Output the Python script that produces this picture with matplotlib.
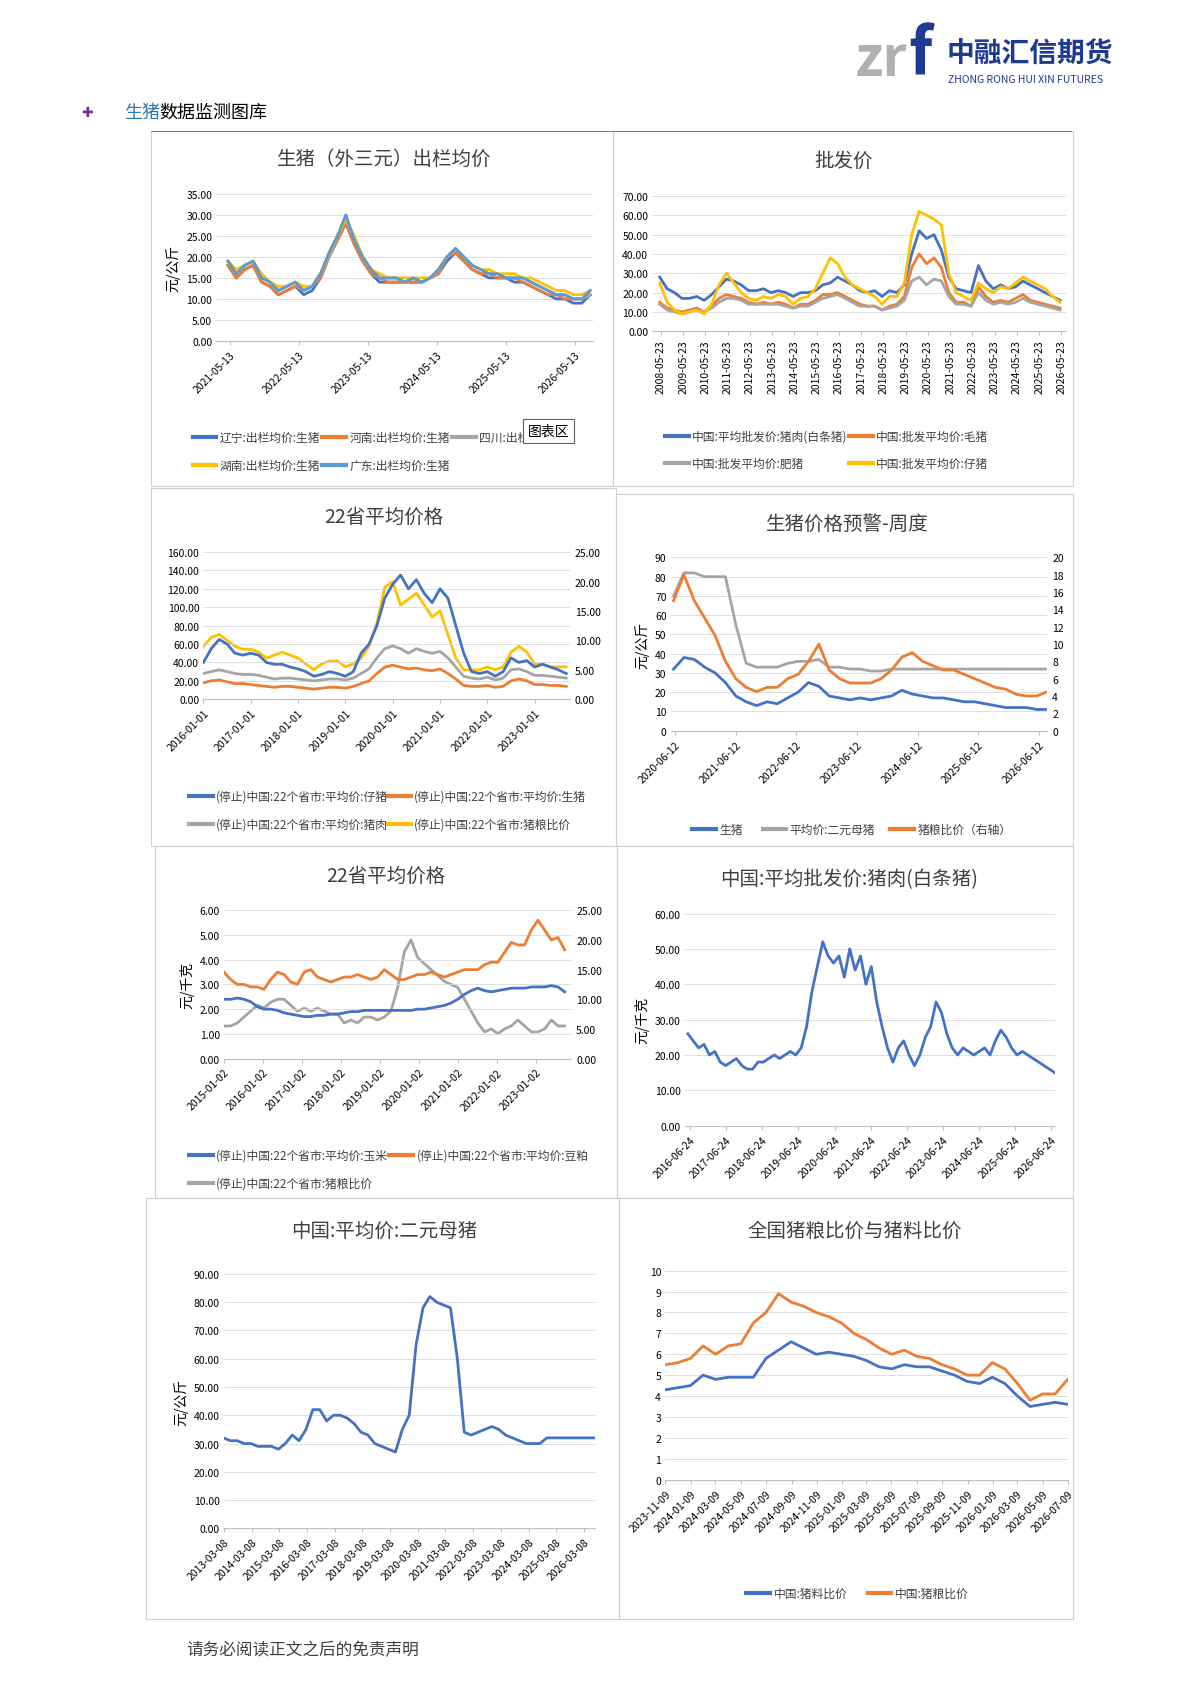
import matplotlib
matplotlib.use("Agg")
import matplotlib.pyplot as plt
import numpy as np
import pandas as pd
from matplotlib.lines import Line2D
from matplotlib.patches import Rectangle

plt.rcParams['font.family'] = ['Noto Sans CJK SC', 'DejaVu Sans']

BLUE, ORANGE, GRAY, YELLOW, LBLUE = "#4472C4", "#ED7D31", "#A5A5A5", "#FFC000", "#5B9BD5"

# ---------------- data ----------------
c1_gd = [19,16,18,19,15,14,12,13,14,12,13,16,21,25,30,24,20,17,15,15,15,14,15,14,15,17,20,22,20,18,17,16,16,15,15,15,14,13,12,11,11,10,10,12]
c1_ln = [18,15,17,18,14,13,11,12,13,11,12,15,20,24,28,23,19,16,14,14,14,14,14,14,15,16,19,21,19,17,16,15,15,15,14,14,13,12,11,10,10,9,9,11]
c1_hn = [18,15,17,18,14,13,11,12,13,12,13,15,20,24,28,23,19,16,15,14,14,14,14,14,15,16,20,21,19,17,16,16,15,15,15,14,13,12,11,11,10,10,10,11]
c1_sc = [19,16,18,19,15,14,12,13,14,12,13,16,20,25,29,24,20,17,15,15,15,14,15,14,15,17,20,22,20,18,17,16,16,15,15,15,14,13,12,11,11,10,10,11]
c1_hu = [19,17,18,19,16,14,13,13,14,13,13,16,21,25,29,25,20,17,16,15,15,15,15,15,15,17,20,22,20,18,17,17,16,16,16,15,15,14,13,12,12,11,11,12]
c1_ticks = ["2021-05-13","2022-05-13","2023-05-13","2024-05-13","2025-05-13","2026-05-13"]

c2_pork = [28,22,20,17,17,18,16,19,23,27,26,24,21,21,22,20,21,20,18,20,20,21,24,25,28,26,24,21,20,21,18,21,20,24,40,52,48,50,42,28,22,21,20,34,26,22,24,22,23,26,24,22,20,18,16]
c2_hog = [15,12,11,10,11,12,10,13,17,19,18,17,15,14,15,14,15,14,12,14,14,16,19,19,20,18,16,14,13,13,11,13,14,18,33,40,35,38,33,20,15,15,13,23,18,15,16,15,17,19,16,15,14,13,12]
c2_fat = [14,11,10,9,10,11,10,12,15,17,17,16,14,14,14,14,14,13,12,13,13,15,17,18,19,17,15,13,13,13,11,12,13,16,26,28,24,27,26,18,14,14,13,20,16,14,15,14,15,17,15,14,13,12,11]
c2_pig = [25,15,11,9,10,11,9,14,24,30,25,20,17,16,18,17,19,18,14,17,18,22,30,38,35,28,24,22,20,18,14,18,18,25,50,62,60,58,55,30,20,18,16,25,22,20,23,22,25,28,26,24,22,18,15]
c2_ticks = [f"{y}-05-23" for y in range(2008, 2027)]

c3_piglet = [40,55,65,60,50,48,50,48,40,38,38,35,33,30,25,27,30,28,25,30,50,60,80,110,125,135,120,130,115,105,120,110,80,50,30,28,30,25,30,45,40,42,35,38,35,32,28]
c3_hog = [18,20,21,19,17,17,16,15,14,13,14,14,13,12,11,12,13,13,12,14,17,20,28,35,37,35,33,34,32,31,33,28,22,15,14,14,15,13,14,20,22,20,16,16,15,15,14]
c3_pork = [28,30,32,30,28,27,27,26,24,22,23,23,22,21,20,21,22,22,21,23,28,33,45,55,58,55,50,55,52,50,52,45,35,25,23,22,24,21,23,32,33,30,26,26,25,24,23]
c3_ratio = [9,10.5,11,10,9,8.5,8.5,8,7,7.5,8,7.5,7,6,5,6,6.5,6.5,5.5,6,7,9,13,19,20,16,17,18,16,14,15,11,7,5,5,5,5.5,5,5.5,8,9,8,6,6,5.5,5.5,5.5]
c3_ticks = [f"{y}-01-01" for y in range(2016, 2024)]

c4_hog = [32,38,37,33,30,25,18,15,13,15,14,17,20,25,23,18,17,16,17,16,17,18,21,19,18,17,17,16,15,15,14,13,12,12,12,11,11]
c4_sow = [70,82,82,80,80,80,55,35,33,33,33,35,36,36,37,33,33,32,32,31,31,32,32,32,32,32,32,32,32,32,32,32,32,32,32,32,32]
c4_ratio = [15,18,15,13,11,8,6,5,4.5,5,5,6,6.5,8,10,7,6,5.5,5.5,5.5,6,7,8.5,9,8,7.5,7,7,6.5,6,5.5,5,4.8,4.2,4,4,4.5]
c4_ticks = [f"{y}-06-12" for y in range(2020, 2027)]

c5_corn = [2.4,2.4,2.45,2.4,2.3,2.1,2.0,2.0,1.95,1.85,1.8,1.75,1.7,1.7,1.75,1.75,1.8,1.8,1.85,1.9,1.9,1.95,1.95,1.95,1.95,1.95,1.95,1.95,1.95,2.0,2.0,2.05,2.1,2.15,2.25,2.4,2.6,2.75,2.85,2.75,2.7,2.75,2.8,2.85,2.85,2.85,2.9,2.9,2.9,2.95,2.9,2.7]
c5_soy = [3.5,3.2,3.0,3.0,2.9,2.9,2.8,3.2,3.5,3.4,3.1,3.0,3.5,3.6,3.3,3.2,3.1,3.2,3.3,3.3,3.4,3.3,3.2,3.3,3.6,3.4,3.2,3.2,3.3,3.4,3.4,3.5,3.4,3.3,3.4,3.5,3.6,3.6,3.6,3.8,3.9,3.9,4.3,4.7,4.6,4.6,5.2,5.6,5.2,4.8,4.9,4.4]
c5_ratio = [5.5,5.5,6,7,8,9,8.5,9.5,10,10,9,8,8.5,8,8.5,8,7.5,7.5,6,6.5,6,7,7,6.5,7,8,12,18,20,17,16,15,14,13,12.5,12,10,8,6,4.5,5,4.2,5,5.5,6.5,5.5,4.5,4.5,5,6.5,5.5,5.5]
c5_ticks = [f"{y}-01-02" for y in range(2015, 2024)]

c6_pork = [26,24,22,23,20,21,18,17,18,19,17,16,16,18,18,19,20,19,20,21,20,22,28,38,45,52,48,46,48,42,50,44,48,40,45,35,28,22,18,22,24,20,17,20,25,28,35,32,26,22,20,22,21,20,21,22,20,24,27,25,22,20,21,20,19,18,17,16,15]
c6_ticks = [f"{y}-06-24" for y in range(2016, 2027)]

c7_sow = [32,31,31,30,30,29,29,29,28,30,33,31,35,42,42,38,40,40,39,37,34,33,30,29,28,27,35,40,65,78,82,80,79,78,60,34,33,34,35,36,35,33,32,31,30,30,30,32,32,32,32,32,32,32,32]
c7_ticks = [f"{y}-03-08" for y in range(2013, 2027)]

c8_feed = [4.3,4.4,4.5,5.0,4.8,4.9,4.9,4.9,5.8,6.2,6.6,6.3,6.0,6.1,6.0,5.9,5.7,5.4,5.3,5.5,5.4,5.4,5.2,5.0,4.7,4.6,4.9,4.6,4.0,3.5,3.6,3.7,3.6]
c8_grain = [5.5,5.6,5.8,6.4,6.0,6.4,6.5,7.5,8.0,8.9,8.5,8.3,8.0,7.8,7.5,7.0,6.7,6.3,6.0,6.2,5.9,5.8,5.5,5.3,5.0,5.0,5.6,5.3,4.6,3.8,4.1,4.1,4.8]
c8_ticks = ["2023-11-09","2024-01-09","2024-03-09","2024-05-09","2024-07-09","2024-09-09","2024-11-09",
            "2025-01-09","2025-03-09","2025-05-09","2025-07-09","2025-09-09","2025-11-09","2026-01-09",
            "2026-03-09","2026-05-09","2026-07-09"]

# ---------------- helpers ----------------
W, H = 1100.0, 1555.0
fig = plt.figure(figsize=(11.9, 16.83), dpi=100)


def px_axes(x0, y0, x1, y1):
    return fig.add_axes([x0 / W, 1 - y1 / H, (x1 - x0) / W, (y1 - y0) / H])


def fx(x):
    return x / W


def fy(y):
    return 1 - y / H


def t(s):
    return pd.Timestamp(s).year + (pd.Timestamp(s).dayofyear - 1) / 365.25


def span(start, end, vals):
    return np.linspace(t(start), t(end), len(vals))


def style(ax, ymax, ystep, ticks, rot=45, fmt="{:.2f}", ylabel=None, xmin=None, xmax=None):
    ax.set_ylim(0, ymax)
    ax.set_yticks(np.arange(0, ymax + 1e-9, ystep))
    ax.set_yticklabels([fmt.format(v) for v in np.arange(0, ymax + 1e-9, ystep)], fontsize=7.5)
    ax.set_xticks([t(s) for s in ticks])
    ax.set_xticklabels(ticks, rotation=rot, fontsize=7.5,
                       ha="right" if rot == 45 else "center", rotation_mode="anchor" if rot == 45 else "default")
    ax.set_xlim(xmin if xmin is not None else t(ticks[0]), xmax if xmax is not None else t(ticks[-1]))
    ax.grid(axis="y", color="#d9d9d9", lw=0.6)
    ax.set_axisbelow(True)
    for s in ["top", "right", "left"]:
        ax.spines[s].set_visible(False)
    ax.spines["bottom"].set_color("#bfbfbf")
    ax.tick_params(length=0, pad=3)
    ax.tick_params(axis="x", length=3, color="#bfbfbf")
    if ylabel:
        ax.set_ylabel(ylabel, fontsize=10)


def right(ax, ymax, ystep):
    ax2 = ax.twinx()
    ax2.set_ylim(0, ymax)
    ax2.set_yticks(np.arange(0, ymax + 1e-9, ystep))
    for s in ax2.spines.values():
        s.set_visible(False)
    ax2.tick_params(length=0, labelsize=7.5)
    return ax2


def legend_row(xs, y, items):
    for xx, (lab, col) in zip(xs, items):
        fig.add_artist(Line2D([fx(xx), fx(xx + 22)], [fy(y), fy(y)], color=col, lw=3))
        fig.text(fx(xx + 25), fy(y), lab, fontsize=8.5, va="center", color="#404040")


def title(x, y, s):
    fig.text(fx(x), fy(y), s, fontsize=14, ha="center", va="center", color="#404040")


# header
fig.text(fx(790), fy(55), "zr", fontsize=40, color="#b0b0b0", va="center", fontweight="bold")
fig.text(fx(840), fy(52), "f", fontsize=46, color="#1f3a93", va="center", fontweight="bold")
fig.text(fx(875), fy(50), "中融汇信期货", fontsize=20, color="#1f3a93", va="center", fontweight="bold")
fig.text(fx(876), fy(74), "ZHONG RONG HUI XIN FUTURES", fontsize=7.5, color="#1f3a93", va="center")
fig.text(fx(75), fy(104), "✚", fontsize=10, color="#7030a0", va="center", family=["DejaVu Sans"])
fig.text(fx(115), fy(104), "生猪", fontsize=13, color="#2e75b6", va="center")
fig.text(fx(147), fy(104), "数据监测图库", fontsize=13, color="black", va="center")
fig.add_artist(Line2D([fx(140), fx(990)], [fy(122), fy(122)], color="#808080", lw=0.8))

# panel borders
for (x0, y0, x1, y1) in [(140, 122, 567, 450), (567, 122, 992, 450), (140, 452, 569, 783), (569, 457, 992, 783),
                         (143, 783, 570, 1108), (570, 783, 992, 1108), (135, 1108, 572, 1497), (572, 1108, 992, 1497)]:
    fig.add_artist(Rectangle((fx(x0), fy(y1)), fx(x1) - fx(x0), fy(y0) - fy(y1), fill=False,
                             ec="#d0d0d0", lw=0.8))

# chart 1
ax = px_axes(200, 180, 548, 316)
x1 = span("2021-05-01", "2026-08-01", c1_gd)
for v, c in [(c1_ln, BLUE), (c1_hn, ORANGE), (c1_sc, GRAY), (c1_hu, YELLOW), (c1_gd, LBLUE)]:
    ax.plot(x1, v, color=c, lw=2)
style(ax, 35, 5, c1_ticks, ylabel="元/公斤", xmin=t("2021-03-01"), xmax=t("2026-08-15"))
title(355, 147, "生猪（外三元）出栏均价")
legend_row([178, 298, 418], 405, [("辽宁:出栏均价:生猪", BLUE), ("河南:出栏均价:生猪", ORANGE), ("四川:出栏", GRAY)])
legend_row([178, 298], 431, [("湖南:出栏均价:生猪", YELLOW), ("广东:出栏均价:生猪", LBLUE)])
fig.text(fx(488), fy(399), "图表区", fontsize=10, va="center", zorder=10,
         bbox=dict(boxstyle="square,pad=0.35", fc="white", ec="#606060", lw=0.8))

# chart 2
ax = px_axes(603, 182, 985, 307)
x2 = span("2008-05-01", "2026-05-01", c2_pork)
for v, c in [(c2_pork, BLUE), (c2_hog, ORANGE), (c2_fat, GRAY), (c2_pig, YELLOW)]:
    ax.plot(x2, v, color=c, lw=2)
style(ax, 70, 10, c2_ticks, rot=90, xmin=t("2008-01-01"), xmax=t("2026-08-01"))
title(780, 149, "批发价")
legend_row([615, 785], 404, [("中国:平均批发价:猪肉(白条猪)", BLUE), ("中国:批发平均价:毛猪", ORANGE)])
legend_row([615, 785], 429, [("中国:批发平均价:肥猪", GRAY), ("中国:批发平均价:仔猪", YELLOW)])

# chart 3
ax = px_axes(188, 511, 527, 647)
x3 = span("2016-01-01", "2023-09-01", c3_piglet)
ax2 = right(ax, 25, 5)
ax2.set_yticklabels([f"{v:.2f}" for v in np.arange(0, 25.1, 5)])
ax2.plot(x3, c3_ratio, color=YELLOW, lw=2)
for v, c in [(c3_piglet, BLUE), (c3_hog, ORANGE), (c3_pork, GRAY)]:
    ax.plot(x3, v, color=c, lw=2)
style(ax, 160, 20, c3_ticks, xmin=t("2016-01-01"), xmax=t("2023-10-01"))
ax.set_zorder(ax2.get_zorder() + 1); ax.patch.set_visible(False)
title(355, 478, "22省平均价格")
legend_row([175, 358], 736, [("(停止)中国:22个省市:平均价:仔猪", BLUE), ("(停止)中国:22个省市:平均价:生猪", ORANGE)])
legend_row([175, 358], 762, [("(停止)中国:22个省市:平均价:猪肉", GRAY), ("(停止)中国:22个省市:猪粮比价", YELLOW)])

# chart 4
ax = px_axes(620, 516, 968, 676)
x4 = span("2020-06-01", "2026-08-01", c4_hog)
ax2 = right(ax, 20, 2)
ax2.plot(x4, c4_ratio, color=ORANGE, lw=2)
ax.plot(x4, c4_hog, color=BLUE, lw=2)
ax.plot(x4, c4_sow, color=GRAY, lw=2)
style(ax, 90, 10, c4_ticks, fmt="{:.0f}", ylabel="元/公斤", xmin=t("2020-05-15"), xmax=t("2026-08-01"))
title(783, 484, "生猪价格预警-周度")
legend_row([640, 705, 823], 767, [("生猪", BLUE), ("平均价:二元母猪", GRAY), ("猪粮比价（右轴）", ORANGE)])

# chart 5
ax = px_axes(207, 842, 528, 979)
x5 = span("2015-01-01", "2023-10-01", c5_corn)
ax2 = right(ax, 25, 5)
ax2.set_yticklabels([f"{v:.2f}" for v in np.arange(0, 25.1, 5)])
ax2.plot(x5, c5_ratio, color=GRAY, lw=2)
ax.plot(x5, c5_corn, color=BLUE, lw=2)
ax.plot(x5, c5_soy, color=ORANGE, lw=2)
style(ax, 6, 1, c5_ticks, ylabel="元/千克", xmin=t("2015-01-01"), xmax=t("2023-12-01"))
ax.set_zorder(ax2.get_zorder() + 1); ax.patch.set_visible(False)
title(357, 810, "22省平均价格")
legend_row([175, 360], 1068, [("(停止)中国:22个省市:平均价:玉米", BLUE), ("(停止)中国:22个省市:平均价:豆粕", ORANGE)])
legend_row([175], 1094, [("(停止)中国:22个省市:猪粮比价", GRAY)])

# chart 6
ax = px_axes(633, 845, 975, 1041)
x6 = span("2016-06-01", "2026-08-01", c6_pork)
ax.plot(x6, c6_pork, color=BLUE, lw=2)
style(ax, 60, 10, c6_ticks, ylabel="元/千克", xmin=t("2016-05-01"), xmax=t("2026-08-01"))
title(785, 813, "中国:平均批发价:猪肉(白条猪)")

# chart 7
ax = px_axes(207, 1178, 550, 1413)
x7 = span("2013-03-01", "2026-08-01", c7_sow)
ax.plot(x7, c7_sow, color=BLUE, lw=2)
style(ax, 90, 10, c7_ticks, ylabel="元/公斤", xmin=t("2013-03-08"), xmax=t("2026-08-01"))
title(355, 1138, "中国:平均价:二元母猪")

# chart 8
ax = px_axes(615, 1175, 987, 1368)
x8 = span("2023-11-09", "2026-07-09", c8_feed)
ax.plot(x8, c8_feed, color=BLUE, lw=2)
ax.plot(x8, c8_grain, color=ORANGE, lw=2)
style(ax, 10, 1, c8_ticks, fmt="{:.0f}")
title(790, 1138, "全国猪粮比价与猪料比价")
legend_row([690, 802], 1473, [("中国:猪料比价", BLUE), ("中国:猪粮比价", ORANGE)])

fig.text(fx(172), fy(1525), "请务必阅读正文之后的免责声明", fontsize=12, va="center", color="#404040")

fig.savefig("out.png", dpi=100)
